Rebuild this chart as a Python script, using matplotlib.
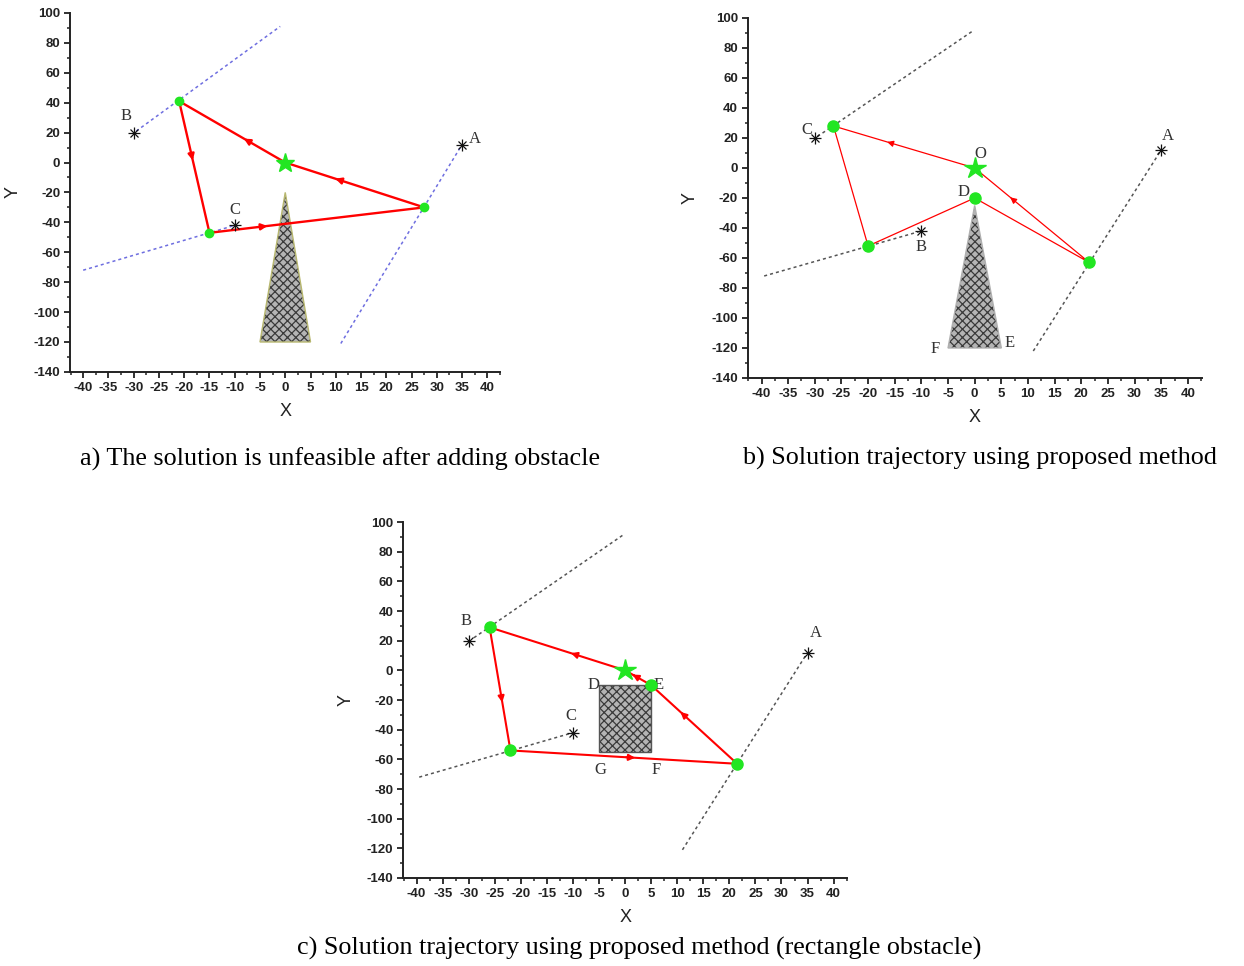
import matplotlib.pyplot as plt
import numpy as np
from matplotlib.ticker import MultipleLocator

plt.rcParams['hatch.linewidth'] = 0.9
plt.rcParams['axes.unicode_minus'] = False

# ---- panel a: triangle obstacle, unfeasible route ----
a_path_x = [0, -21, -15, 27.5, 0]
a_path_y = [0, 41, -47, -30, 0]
a_arrows = [(0, 0.37), (1, 0.43), (2, 0.25), (3, 0.62)]
a_target_x = [35, -30, -10]
a_target_y = [12, 20, -42]
a_target_names = ['A', 'B', 'C']
a_name_x = [37.5, -31.5, -10]
a_name_y = [16, 31, -32]
a_guides = [((-29.5, -1), (21, 91)), ((-40, -10), (-72, -42)), ((11, 35), (-121, 12))]
a_obst_x = [-5, 0, 5]
a_obst_y = [-120, -20, -120]

# ---- panel b: triangle obstacle, proposed method ----
b_path_x = [0, -26.5, -20, 0, 21.5, 0]
b_path_y = [0, 28, -52, -20, -63, 0]
b_arrows = [(0, 0.6), (4, 0.67)]
b_target_x = [35, -30, -10]
b_target_y = [12, 20, -42]
b_target_names = ['A', 'C', 'B']
b_name_x = [36.2, -31.5, -10]
b_name_y = [21, 25, -53]
b_guides = [((-29.5, -0.5), (21, 91)), ((-39.5, -10), (-72, -42)), ((11, 35), (-122, 12))]
b_obst_x = [-5, 0, 5]
b_obst_y = [-120, -25, -120]
b_vertex_names = ['O', 'D', 'F', 'E']
b_vertex_x = [1, -2, -7.5, 6.5]
b_vertex_y = [9, -16, -121, -117]

# ---- panel c: rectangle obstacle, proposed method ----
c_path_x = [0, -26, -22, 21.5, 5, 0]
c_path_y = [0, 29, -54, -63, -10, 0]
c_arrows = [(0, 0.38), (1, 0.59), (2, 0.53), (3, 0.64), (4, 0.7)]
c_target_x = [35, -30, -10]
c_target_y = [12, 20, -42]
c_target_names = ['A', 'B', 'C']
c_name_x = [36.5, -30.5, -10.5]
c_name_y = [25, 33, -31]
c_guides = [((-29, -0.5), (22, 91)), ((-39.5, -10), (-72, -42)), ((11, 35), (-121, 12))]
c_obst_x = [-5, 5, 5, -5]
c_obst_y = [-10, -10, -55, -55]
c_vertex_names = ['D', 'E', 'G', 'F']
c_vertex_x = [-6, 6.5, -4.8, 6]
c_vertex_y = [-10, -10, -67, -67]

captions = ['a) The solution is unfeasible after adding obstacle',
            'b) Solution trajectory using proposed method',
            'c) Solution trajectory using proposed method (rectangle obstacle)']

SERIF = 'Liberation Serif'
SANS = 'Liberation Sans'


def style_axes(ax):
    ax.set_xlim(-42.6, 42.6)
    ax.set_ylim(-140, 100)
    ax.spines['top'].set_visible(False)
    ax.spines['right'].set_visible(False)
    for s in ('left', 'bottom'):
        ax.spines[s].set_linewidth(1.4)
        ax.spines[s].set_color('#222222')
    ax.xaxis.set_major_locator(MultipleLocator(5))
    ax.xaxis.set_minor_locator(MultipleLocator(2.5))
    ax.yaxis.set_major_locator(MultipleLocator(20))
    ax.yaxis.set_minor_locator(MultipleLocator(10))
    ax.tick_params(which='major', length=4.5, width=1.3, color='#222222',
                   labelsize=9.5, labelcolor='#222222', pad=2.5)
    ax.tick_params(which='minor', length=2.5, width=1.1, color='#222222')
    for lab in ax.get_xticklabels() + ax.get_yticklabels():
        lab.set_fontfamily(SANS)
        lab.set_fontweight('bold')
    ax.set_xlabel('X', fontsize=13, fontfamily=SANS, color='#222222', labelpad=7)
    ax.set_ylabel('Y', fontsize=13, fontfamily=SANS, color='#222222', labelpad=9)


def draw_arrows(ax, px, py, arrows, lw, scale):
    for i, frac in arrows:
        x0, y0, x1, y1 = px[i], py[i], px[i + 1], py[i + 1]
        mx, my = x0 + frac * (x1 - x0), y0 + frac * (y1 - y0)
        dx, dy = (x1 - x0) * 0.02, (y1 - y0) * 0.02
        ax.annotate('', xy=(mx + dx, my + dy), xytext=(mx - dx, my - dy),
                    arrowprops=dict(arrowstyle='-|>', color='red', lw=lw,
                                    mutation_scale=scale, shrinkA=0, shrinkB=0),
                    zorder=4)


def draw_targets(ax, tx, ty, names, nx, ny):
    ax.plot(tx, ty, linestyle='none', marker='+', ms=8, mew=0.9, color='#111111', zorder=5)
    ax.plot(tx, ty, linestyle='none', marker='x', ms=6, mew=0.9, color='#111111', zorder=5)
    for name, x, y in zip(names, nx, ny):
        ax.text(x, y, name, fontsize=12, fontfamily=SERIF, color='#333333',
                ha='center', va='center')


def draw_panel(ax, px, py, arrows, tx, ty, tnames, nx, ny, guides, ox, oy,
               guide_color, obst_edge, path_lw, dot_size):
    style_axes(ax)
    for gx, gy in guides:
        ax.plot(gx, gy, color=guide_color, lw=1.1, linestyle=(0, (2, 2)), zorder=2)
    # obstacle: grey fill with dark crosshatch, then outline
    ax.fill(ox, oy, facecolor='#b4b4b4', edgecolor='#3a3a3a', hatch='xxxx', lw=0, zorder=1)
    ax.fill(ox, oy, facecolor='none', edgecolor=obst_edge, lw=1.0, zorder=1)
    ax.plot(px, py, color='red', lw=path_lw, zorder=3)
    draw_arrows(ax, px, py, arrows, path_lw, 9)
    ax.plot(px[1:-1], py[1:-1], linestyle='none', marker='o', ms=dot_size,
            color='#22e622', zorder=6)
    ax.plot([px[0]], [py[0]], linestyle='none', marker='*', ms=dot_size + 8,
            color='#22e622', zorder=6)
    draw_targets(ax, tx, ty, tnames, nx, ny)


fig = plt.figure(figsize=(12.44, 9.66), dpi=100)

ax_a = fig.add_axes([0.0563, 0.615, 0.346, 0.3716])
draw_panel(ax_a, a_path_x, a_path_y, a_arrows, a_target_x, a_target_y,
           a_target_names, a_name_x, a_name_y, a_guides, a_obst_x, a_obst_y,
           '#6e6ee0', '#b8b870', 1.7, 6)

ax_b = fig.add_axes([0.601, 0.6087, 0.365, 0.3727])
draw_panel(ax_b, b_path_x, b_path_y, b_arrows, b_target_x, b_target_y,
           b_target_names, b_name_x, b_name_y, b_guides, b_obst_x, b_obst_y,
           '#555555', '#b0b0b0', 0.9, 8)
for name, x, y in zip(b_vertex_names, b_vertex_x, b_vertex_y):
    ax_b.text(x, y, name, fontsize=12, fontfamily=SERIF, color='#333333',
              ha='center', va='center')

ax_c = fig.add_axes([0.324, 0.0911, 0.357, 0.3685])
draw_panel(ax_c, c_path_x, c_path_y, c_arrows, c_target_x, c_target_y,
           c_target_names, c_name_x, c_name_y, c_guides, c_obst_x, c_obst_y,
           '#555555', '#555555', 1.5, 8)
for name, x, y in zip(c_vertex_names, c_vertex_x, c_vertex_y):
    ax_c.text(x, y, name, fontsize=12, fontfamily=SERIF, color='#333333',
              ha='center', va='center')

fig.text(0.273, 0.525, captions[0], fontsize=18.8, fontfamily=SERIF, ha='center', va='center')
fig.text(0.788, 0.525, captions[1], fontsize=18.8, fontfamily=SERIF, ha='center', va='center')
fig.text(0.514, 0.0185, captions[2], fontsize=18.8, fontfamily=SERIF, ha='center', va='center')

fig.savefig('out.png', dpi=100)
